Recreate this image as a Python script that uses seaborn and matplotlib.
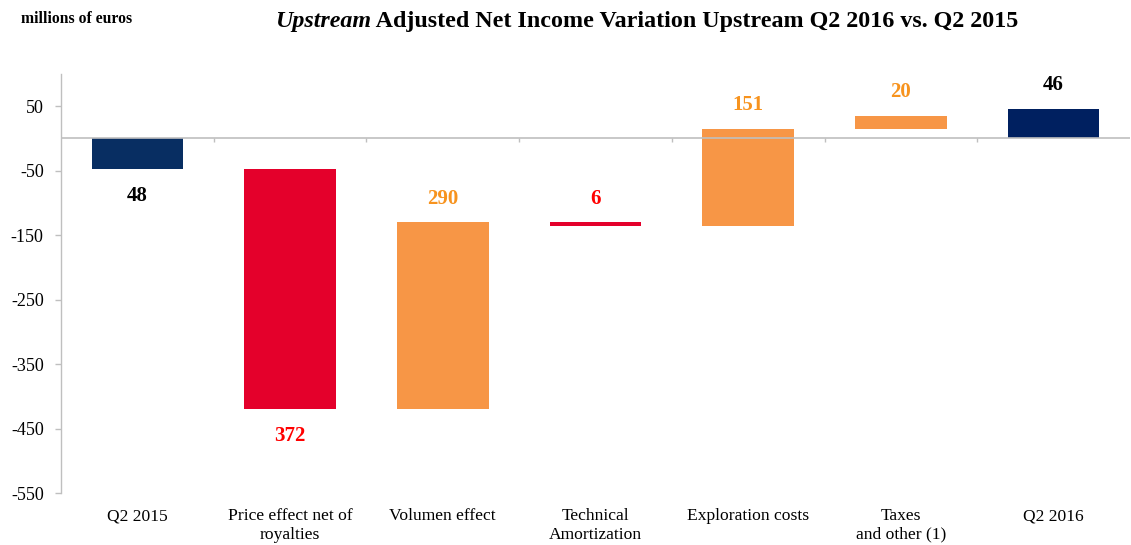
import numpy as np
import pandas as pd
import matplotlib
matplotlib.use("Agg")
import matplotlib.pyplot as plt
import seaborn as sns

categories = ["Q2 2015", "Price effect net of\nroyalties", "Volumen effect",
              "Technical\nAmortization", "Exploration costs", "Taxes\nand other (1)", "Q2 2016"]
changes = [-48, -372, 290, -6, 151, 20, 46]   # first/last are totals
kinds = ["total", "neg", "pos", "neg", "pos", "pos", "total"]
value_labels = ["48", "372", "290", "6", "151", "20", "46"]
yticks = [50, -50, -150, -250, -350, -450, -550]

bar_colors = {"total0": "#082E62", "total1": "#002060", "neg": "#E4002B", "pos": "#F79646"}
label_colors = {"total": "#000000", "neg": "#FF0000", "pos": "#F7931E"}

# waterfall geometry
bottoms, heights = [], []
running = 0
for i, (c, k) in enumerate(zip(changes, kinds)):
    if k == "total":
        bottoms.append(0)
        heights.append(c)
        running = c
    else:
        bottoms.append(running)
        heights.append(c)
        running += c

df = pd.DataFrame({"cat": categories, "height": heights})

sns.set_style("white")
plt.rcParams["font.family"] = ["Liberation Serif", "DejaVu Serif"]
plt.rcParams["text.color"] = "black"
plt.rcParams["xtick.color"] = "black"
plt.rcParams["ytick.color"] = "black"

fig = plt.figure(figsize=(11.31, 5.45), dpi=100)
ax = fig.add_axes([61 / 1131, 52 / 545, (1130 - 61) / 1131, (493 - 74) / 545])

sns.barplot(data=df, x="cat", y="height", order=categories, ax=ax, errorbar=None,
            width=0.6, bottom=bottoms, color="#F79646", linewidth=0)

colors = []
for i, k in enumerate(kinds):
    if k == "total":
        colors.append(bar_colors["total0"] if i == 0 else bar_colors["total1"])
    else:
        colors.append(bar_colors[k])
for p, col in zip(ax.patches, colors):
    p.set_facecolor(col)
    p.set_edgecolor("none")

ax.set_ylim(-550, 100)
ax.set_xlim(-0.5, len(categories) - 0.5)
ax.set_yticks(yticks)
ax.set_yticklabels([str(t) for t in yticks], fontsize=13)
ax.set_xticks(range(len(categories)))
ax.set_xticklabels(categories, fontsize=12.6, linespacing=1.2)
ax.tick_params(axis="x", length=0, pad=11, labelcolor="black")
ax.tick_params(axis="y", length=4.5, width=1, color="#BFBFBF", pad=8, left=True,
               labelcolor="black")
ax.set_xlabel("")
ax.set_ylabel("")

for s in ["top", "right", "bottom"]:
    ax.spines[s].set_visible(False)
ax.spines["left"].set_color("#BFBFBF")
ax.spines["left"].set_linewidth(1)

# zero line with category-boundary ticks
ax.axhline(0, color="#BFBFBF", lw=1.2, zorder=1)
bounds = np.arange(len(categories)) + 0.5
ax.vlines(bounds[:-1], -6, 0, color="#BFBFBF", lw=1, zorder=1)

# value labels
for i, (b, h, k, lab) in enumerate(zip(bottoms, heights, kinds, value_labels)):
    top = max(b, b + h)
    bot = min(b, b + h)
    if k == "pos" or (k == "total" and h > 0) or (k == "neg" and i == 3):
        y, off = top, 17
    else:
        y, off = bot, -19
    ax.annotate(lab, (i, y), xytext=(0, off), textcoords="offset points",
                ha="center", va="center", fontsize=15, fontweight="bold",
                color=label_colors[k])

fig.text(21 / 1131, 1 - 19 / 545, "millions of euros", fontsize=11.3, fontweight="bold",
         va="center", ha="left", color="black")

t1 = fig.text(275 / 1131, 1 - 22 / 545, "Upstream", fontsize=17.3, fontweight="bold",
              fontstyle="italic", va="center", ha="left", color="black")
fig.canvas.draw()
bb = t1.get_window_extent(renderer=fig.canvas.get_renderer())
fig.text(bb.x1 / 1131, 1 - 22 / 545, " Adjusted Net Income Variation Upstream Q2 2016 vs. Q2 2015",
         fontsize=17.3, fontweight="bold", va="center", ha="left", color="black")

fig.savefig("out.png", dpi=100)
